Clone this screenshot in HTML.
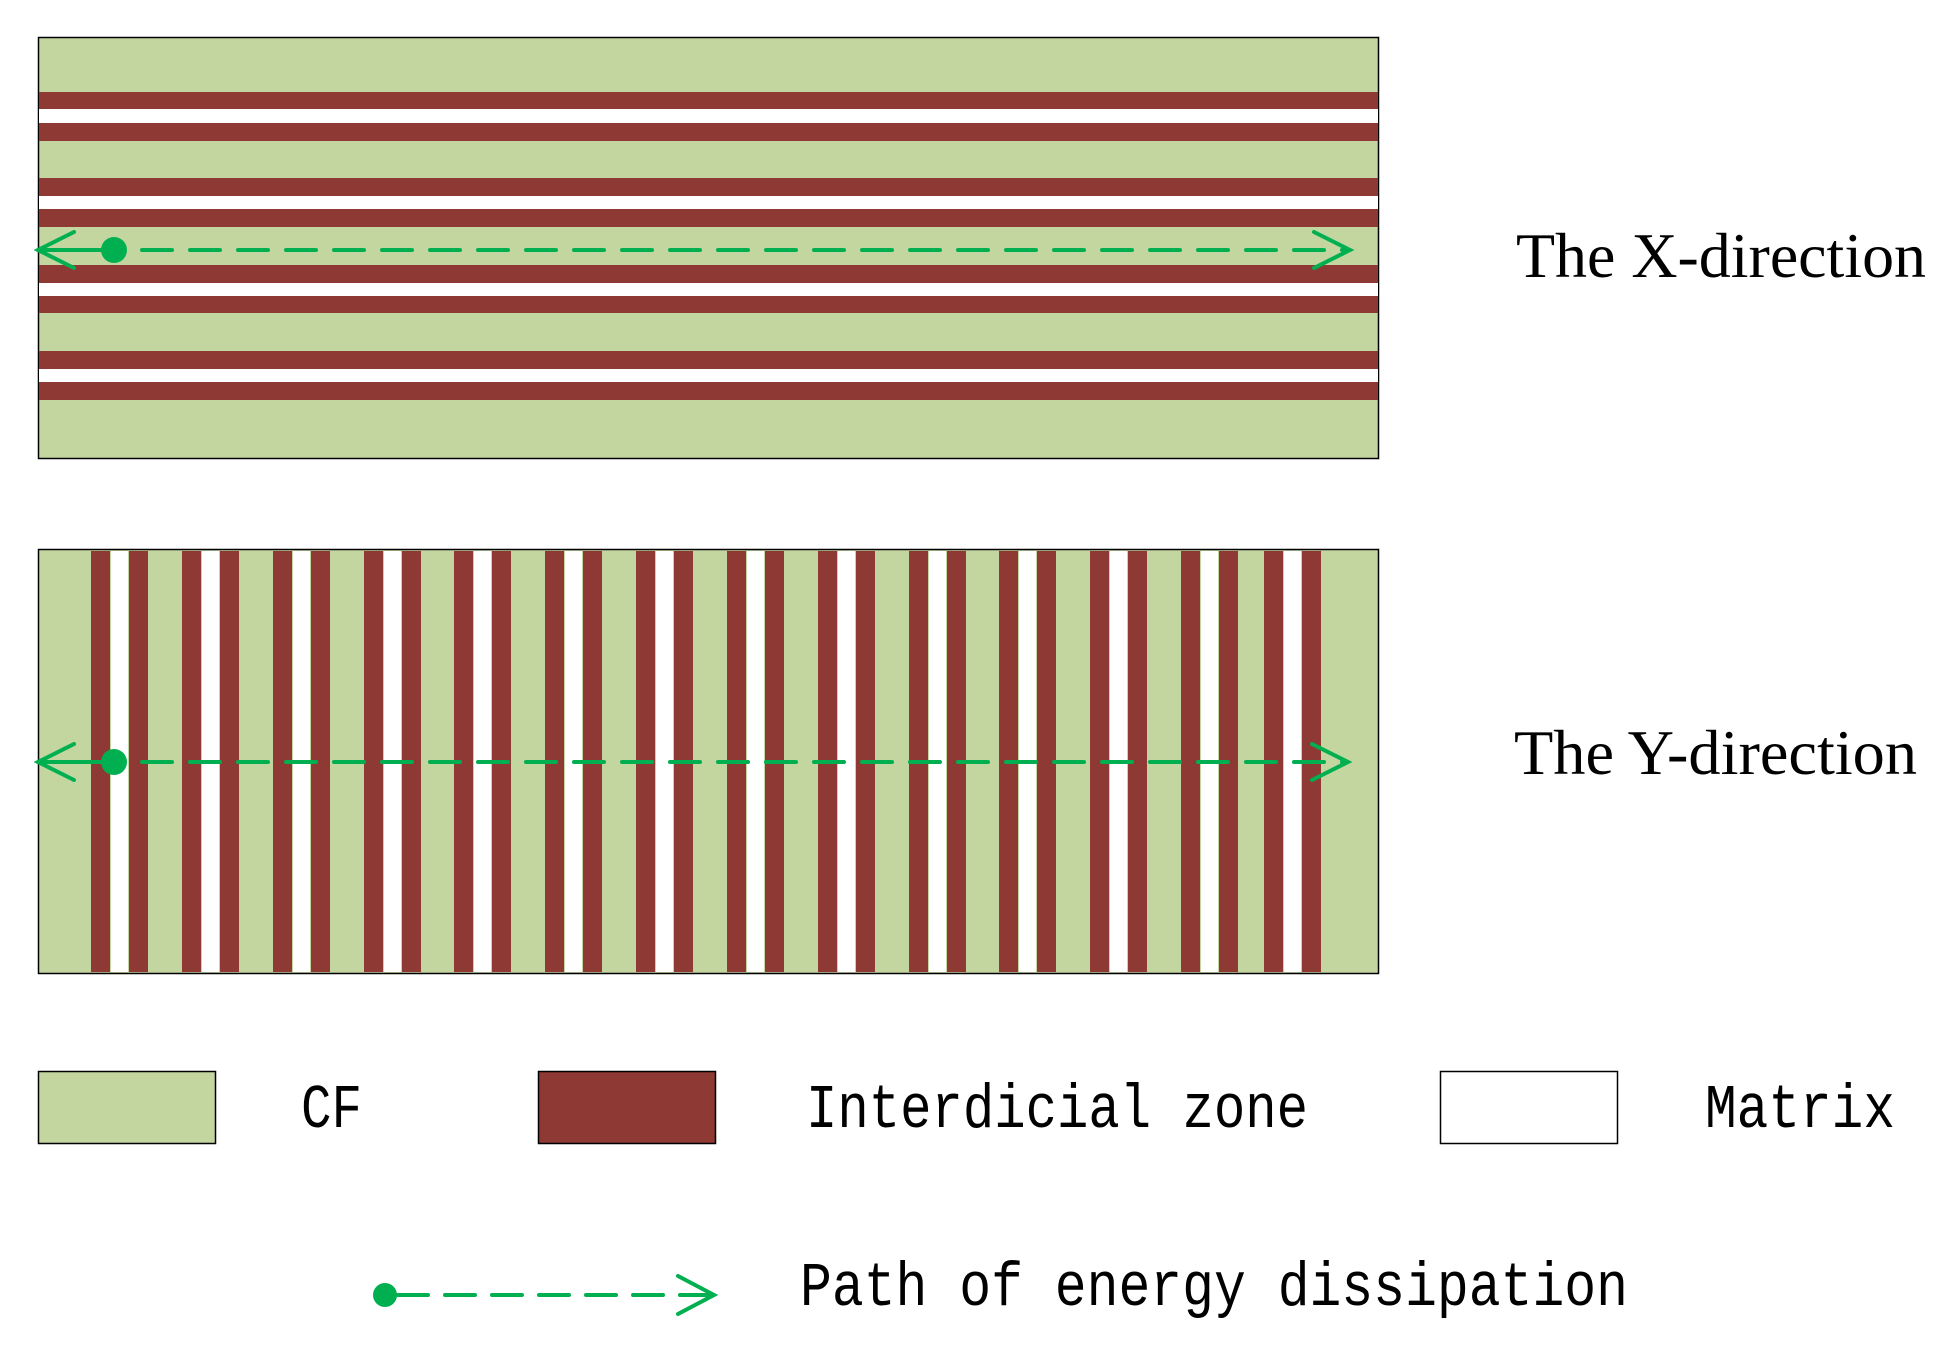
<!DOCTYPE html>
<html><head><meta charset="utf-8"><style>html,body{margin:0;padding:0;background:#fff}svg{display:block}</style></head>
<body>
<svg width="1949" height="1351" viewBox="0 0 1949 1351" xmlns="http://www.w3.org/2000/svg">
<rect x="38.5" y="37.5" width="1340" height="421" fill="#c4d6a0" stroke="#000" stroke-width="1.5"/>
<g fill="#8e3933">
<rect x="39" y="92" width="1339" height="17"/><rect x="39" y="123" width="1339" height="18"/>
<rect x="39" y="178" width="1339" height="18"/><rect x="39" y="209" width="1339" height="18"/>
<rect x="39" y="265" width="1339" height="18"/><rect x="39" y="296" width="1339" height="17"/>
<rect x="39" y="351" width="1339" height="18"/><rect x="39" y="382" width="1339" height="18"/>
</g>
<g fill="#fff">
<rect x="39" y="109" width="1339" height="14"/><rect x="39" y="196" width="1339" height="13"/>
<rect x="39" y="283" width="1339" height="13"/><rect x="39" y="369" width="1339" height="13"/>
</g>
<rect x="38.5" y="549.5" width="1340" height="424" fill="#c4d6a0" stroke="#000" stroke-width="1.5"/>
<g id="bars"></g>
<g fill="#8e3933">
<rect x="91" y="551" width="19" height="421"/><rect x="129" y="551" width="19" height="421"/>
<rect x="182" y="551" width="19" height="421"/><rect x="220" y="551" width="19" height="421"/>
<rect x="273" y="551" width="19" height="421"/><rect x="311" y="551" width="19" height="421"/>
<rect x="364" y="551" width="19" height="421"/><rect x="402" y="551" width="19" height="421"/>
<rect x="454" y="551" width="19" height="421"/><rect x="492" y="551" width="19" height="421"/>
<rect x="545" y="551" width="19" height="421"/><rect x="583" y="551" width="19" height="421"/>
<rect x="636" y="551" width="19" height="421"/><rect x="674" y="551" width="19" height="421"/>
<rect x="727" y="551" width="19" height="421"/><rect x="765" y="551" width="19" height="421"/>
<rect x="818" y="551" width="19" height="421"/><rect x="856" y="551" width="19" height="421"/>
<rect x="909" y="551" width="19" height="421"/><rect x="947" y="551" width="19" height="421"/>
<rect x="999" y="551" width="19" height="421"/><rect x="1037" y="551" width="19" height="421"/>
<rect x="1090" y="551" width="19" height="421"/><rect x="1128" y="551" width="19" height="421"/>
<rect x="1181" y="551" width="19" height="421"/><rect x="1219" y="551" width="19" height="421"/>
<rect x="1264" y="551" width="19" height="421"/><rect x="1302" y="551" width="19" height="421"/>
</g>
<g fill="#fff">
<rect x="111" y="551" width="17" height="421"/><rect x="202" y="551" width="17" height="421"/>
<rect x="293" y="551" width="17" height="421"/><rect x="384" y="551" width="17" height="421"/>
<rect x="474" y="551" width="17" height="421"/><rect x="565" y="551" width="17" height="421"/>
<rect x="656" y="551" width="17" height="421"/><rect x="747" y="551" width="17" height="421"/>
<rect x="838" y="551" width="17" height="421"/><rect x="929" y="551" width="17" height="421"/>
<rect x="1019" y="551" width="17" height="421"/><rect x="1110" y="551" width="17" height="421"/>
<rect x="1201" y="551" width="17" height="421"/><rect x="1284" y="551" width="17" height="421"/>
</g>
<g stroke="#00b050" stroke-width="4" stroke-linecap="round" fill="none">
<line x1="38" y1="250" x2="114" y2="250"/>
<polyline points="74,232 38,250 74,268"/>
<line x1="128" y1="250" x2="1348" y2="250" stroke-dasharray="30 18" stroke-dashoffset="-14"/>
<polyline points="1314,232 1350,250 1314,268"/>
<line x1="38" y1="762" x2="114" y2="762"/>
<polyline points="74,744 38,762 74,780"/>
<line x1="128" y1="762" x2="1346" y2="762" stroke-dasharray="30 18" stroke-dashoffset="-14"/>
<polyline points="1312,744 1348,762 1312,780"/>
<line x1="385" y1="1295" x2="712" y2="1295" stroke-dasharray="30 17" stroke-dashoffset="-13"/>
<polyline points="678,1276 714,1295 678,1314"/>
</g>
<g fill="#00b050">
<circle cx="114" cy="250" r="13"/><circle cx="114" cy="762" r="13"/><circle cx="385" cy="1295" r="12"/>
</g>
<rect x="38.5" y="1071.5" width="177" height="72" fill="#c4d6a0" stroke="#000" stroke-width="1.5"/>
<rect x="538.5" y="1071.5" width="177" height="72" fill="#8e3933" stroke="#000" stroke-width="1.5"/>
<rect x="1440.5" y="1071.5" width="177" height="72" fill="#fff" stroke="#000" stroke-width="1.5"/>
<g font-family="Liberation Serif, serif" fill="#000">
<text x="1516" y="277" font-size="64" textLength="410" lengthAdjust="spacingAndGlyphs">The X-direction</text>
<text x="1514" y="774" font-size="64" textLength="403" lengthAdjust="spacingAndGlyphs">The Y-direction</text>
</g>
<g font-family="Liberation Mono, monospace" fill="#000" font-size="62">
<text x="301" y="1127" textLength="61" lengthAdjust="spacingAndGlyphs">CF</text>
<text x="806" y="1127" textLength="502" lengthAdjust="spacingAndGlyphs">Interdicial zone</text>
<text x="1705" y="1127" textLength="190" lengthAdjust="spacingAndGlyphs">Matrix</text>
<text x="800" y="1305" textLength="828" lengthAdjust="spacingAndGlyphs">Path of energy dissipation</text>
</g>
</svg>
</body></html>
